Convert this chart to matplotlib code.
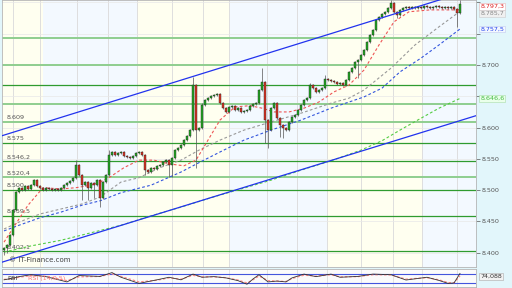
import numpy as np
import matplotlib
matplotlib.use('Agg')
import matplotlib.pyplot as plt
from matplotlib.patches import Rectangle
import matplotlib.transforms as mtransforms

# ---- data ----
first_open = 8.404
closes = [
    8.408, 8.412, 8.428, 8.468, 8.497, 8.504, 8.500, 8.507, 8.502, 8.508,
    8.516, 8.507, 8.504, 8.500, 8.504, 8.502, 8.500, 8.502, 8.500, 8.504,
    8.508, 8.512, 8.515, 8.520, 8.540, 8.524, 8.508, 8.513, 8.504, 8.512,
    8.508, 8.516, 8.488, 8.513, 8.524, 8.556, 8.561, 8.556, 8.559, 8.561,
    8.555, 8.553, 8.551, 8.555, 8.559, 8.561, 8.556, 8.532, 8.529, 8.536,
    8.534, 8.539, 8.540, 8.545, 8.548, 8.540, 8.551, 8.564, 8.567, 8.572,
    8.580, 8.587, 8.596, 8.668, 8.596, 8.599, 8.636, 8.644, 8.647, 8.650,
    8.652, 8.654, 8.639, 8.631, 8.625, 8.633, 8.635, 8.628, 8.631, 8.625,
    8.627, 8.628, 8.635, 8.638, 8.639, 8.660, 8.673, 8.612, 8.596, 8.631,
    8.639, 8.615, 8.604, 8.599, 8.596, 8.609, 8.617, 8.620, 8.628, 8.636,
    8.644, 8.647, 8.668, 8.663, 8.657, 8.660, 8.663, 8.678, 8.676, 8.674,
    8.673, 8.670, 8.671, 8.668, 8.676, 8.689, 8.695, 8.705, 8.708, 8.716,
    8.724, 8.737, 8.748, 8.756, 8.772, 8.777, 8.781, 8.785, 8.791, 8.799,
    8.785, 8.780, 8.788, 8.791, 8.793, 8.791, 8.793, 8.791, 8.793, 8.791,
    8.794, 8.793, 8.791, 8.793, 8.794, 8.793, 8.791, 8.793, 8.791, 8.793,
    8.789, 8.783, 8.797,
]
spike_high = {24: 8.548, 35: 8.564, 63: 8.681, 66: 8.640, 86: 8.695,
              102: 8.672, 107: 8.684, 129: 8.804, 152: 8.804}
spike_low = {0: 8.397, 1: 8.400, 26: 8.485, 28: 8.484, 30: 8.487, 32: 8.473,
             47: 8.525, 55: 8.521, 56: 8.521, 64: 8.536, 87: 8.575, 88: 8.567,
             92: 8.585, 93: 8.583, 118: 8.679, 131: 8.775, 151: 8.761}

red_idx = [0, 2, 8, 13, 19, 24, 29, 32, 35, 40, 45, 50, 55, 60, 64, 67, 72, 77,
           82, 86, 90, 95, 100, 105, 110, 115, 120, 125, 130, 135, 142, 152]
red_ma = [8.417, 8.432, 8.476, 8.504, 8.502, 8.504, 8.508, 8.513, 8.520, 8.536,
          8.548, 8.548, 8.542, 8.539, 8.548, 8.572, 8.612, 8.633, 8.635, 8.631,
          8.625, 8.625, 8.631, 8.641, 8.657, 8.668, 8.692, 8.732, 8.769, 8.785,
          8.788, 8.788]

grey_idx = [0, 5, 12, 19, 26, 32, 39, 45, 52, 59, 65, 72, 80, 89, 99, 109, 115,
            120, 129, 137, 145, 152]
grey_ma = [8.438, 8.449, 8.462, 8.470, 8.478, 8.489, 8.513, 8.520, 8.536, 8.548,
           8.564, 8.580, 8.596, 8.609, 8.623, 8.639, 8.647, 8.660, 8.695, 8.732,
           8.761, 8.7857]

blue_idx = [0, 5, 12, 19, 26, 32, 39, 49, 59, 65, 72, 80, 89, 99, 109, 120, 126,
            132, 139, 145, 152]
blue_ma = [8.435, 8.444, 8.456, 8.465, 8.476, 8.483, 8.496, 8.508, 8.529, 8.544,
           8.561, 8.580, 8.596, 8.612, 8.631, 8.649, 8.663, 8.689, 8.711, 8.732,
           8.7575]

green_idx = [0, 9, 19, 29, 39, 49, 59, 69, 79, 89, 99, 109, 119, 126, 132, 139,
             145, 152]
green_ma = [8.401, 8.411, 8.420, 8.432, 8.444, 8.459, 8.473, 8.488, 8.502, 8.516,
            8.532, 8.547, 8.564, 8.579, 8.596, 8.615, 8.631, 8.6466]

# trend channel end points (candle index, price)
trend_x = [-0.67, 157.33]
trend_upper = [8.587, 8.822]
trend_lower = [8.385, 8.619]

levels = [8.743, 8.700, 8.668, 8.637, 8.609, 8.575, 8.5462, 8.5204, 8.500,
          8.4595, 8.4021]
level_labels = ['', '', '', '', '8.609', '8.575', '8.546,2', '8.520,4', '8.500',
                '8.459,5', '8.402,1']

price_ticks = [8.40, 8.45, 8.50, 8.55, 8.60, 8.65, 8.70, 8.75, 8.80]
price_tick_labels = ['8.400', '8.450', '8.500', '8.550', '8.600', '', '8.700',
                     '', '']

value_labels = ['8.797,3', '8.785,7', '8.757,5', '8.646,6']
rsi_last = '74,088'

rsi_idx = [0, 2, 5, 9, 14, 21, 25, 32, 36, 39, 45, 51, 55, 59, 63, 66, 70, 74,
           78, 81, 83, 85, 88, 91, 94, 96, 100, 104, 109, 112, 118, 123, 129,
           134, 141, 145, 148, 150, 152]
rsi = [44, 49, 59, 68, 59, 34, 64, 60, 78, 56, 27, 44, 56, 44, 71, 56, 59, 53,
       40, 23, 48, 68, 34, 38, 34, 53, 71, 59, 71, 56, 60, 71, 68, 43, 56, 41,
       27, 29, 74]
rsi_sig = [46, 48, 56, 64, 61, 40, 58, 60, 72, 60, 34, 42, 53, 47, 65, 58, 58,
           54, 43, 29, 44, 62, 40, 38, 36, 50, 66, 61, 68, 58, 59, 68, 67, 47,
           54, 44, 31, 30, 62]

# ---- style ----
level_dark = [False, False, True, False, False, True, True, False, True, True, True]
vgrid = [3, 12, 24.3, 34.7, 44.3, 56, 66.3, 75, 87.7, 97.7, 107.7, 119, 129.7,
         139.3, 151]
band_edges = [-0.67, 13, 44.3, 75, 107.7, 139.3, 157.33]
box_y = [8.7935, 8.7822, 8.7575, 8.6466]   # where the right boxes sit
box_style = [('#dd2222', '#ffffff', '#e8b0b0'),
             ('#888888', '#f0f0f0', '#cccccc'),
             ('#2244ee', '#f4f8ff', '#c0c8ee'),
             ('#44bb44', '#eaffea', '#a8dda8')]
fs = 4.6

fig = plt.figure(figsize=(5.12, 2.88), dpi=100)
fig.patch.set_facecolor('#e2f6fb')

ax = fig.add_axes([2 / 512, 21 / 288, 474 / 512, 267 / 288])
ax.set_xlim(-0.67, 157.33)
ax.set_ylim(8.3773, 8.8038)

for k in range(len(band_edges) - 1):
    col = '#fffff0' if k % 2 == 0 else '#f3f9ff'
    ax.axvspan(band_edges[k], band_edges[k + 1], color=col, lw=0, zorder=0)
for g in vgrid:
    ax.axvline(g, color='#dedede', lw=0.7, zorder=1)
for t in price_ticks:
    ax.axhline(t, color='#e8e8e8', lw=0.5, zorder=1)

for lv, lab, dark in zip(levels, level_labels, level_dark):
    if dark:
        ax.axhline(lv, color='#2f9b2f', lw=0.9, zorder=2)
    else:
        ax.axhline(lv, color='#8fce8f', lw=1.4, zorder=2)
    if lab:
        ax.text(1.0, lv + 0.003, lab, fontsize=fs, color='#555555',
                va='bottom', ha='left', zorder=2)

# moving averages
ax.plot(green_idx, green_ma, color='#55cc44', lw=0.8, ls=(0, (2.5, 2)), zorder=3)
ax.plot(blue_idx, blue_ma, color='#3355dd', lw=0.8, ls=(0, (2.5, 2)), zorder=3)
ax.plot(grey_idx, grey_ma, color='#999999', lw=0.8, ls=(0, (2.5, 2)), zorder=3)
ax.plot(red_idx, red_ma, color='#ee5555', lw=0.8, ls=(0, (2.5, 2)), zorder=3)

# candles
for i, c in enumerate(closes):
    o = closes[i - 1] if i > 0 else first_open
    top, bot = max(o, c), min(o, c)
    hi = spike_high.get(i, top + 0.0015)
    lo = spike_low.get(i, bot - 0.0015)
    ax.vlines(i, lo, hi, color='#555555', lw=0.5, zorder=4)
    fc = '#22aa22' if c >= o else '#dd3322'
    ax.add_patch(Rectangle((i - 0.38, bot), 0.76, max(top - bot, 0.0009),
                           facecolor=fc, edgecolor='#222222', lw=0.3, zorder=4))

# trend channel
ax.plot(trend_x, trend_upper, color='#2233ee', lw=0.9, zorder=5)
ax.plot(trend_x, trend_lower, color='#2233ee', lw=0.9, zorder=5)

ax.text(1.5, 8.384, '\u00a9 IT-Finance.com', fontsize=5, color='#444444',
        va='bottom', ha='left', zorder=6)

ax.set_xticks([])
ax.yaxis.tick_right()
ax.set_yticks(price_ticks)
ax.set_yticklabels(price_tick_labels)
ax.tick_params(axis='y', direction='out', length=3, width=0.5, pad=1,
               labelsize=fs, colors='#555555')
for s in ax.spines.values():
    s.set_color('#b5b5b5')
    s.set_linewidth(0.6)

# value boxes at right
tr = mtransforms.blended_transform_factory(ax.transAxes, ax.transData)
for p, lab, (tc, bc, ec) in zip(box_y, value_labels, box_style):
    ax.text(1.009, p, lab, transform=tr, fontsize=fs, color=tc, va='center',
            ha='left', zorder=7, clip_on=False,
            bbox=dict(boxstyle='square,pad=0.15', facecolor=bc, edgecolor=ec,
                      lw=0.4))

# RSI panel
ax2 = fig.add_axes([2 / 512, 1 / 288, 474 / 512, 18 / 288])
ax2.set_xlim(-0.67, 157.33)
ax2.set_ylim(10, 95)
ax2.set_facecolor('#fbfbfb')
for g in vgrid:
    ax2.axvline(g, color='#e2e2e2', lw=0.7, zorder=1)
ax2.axhline(70, color='#4455dd', lw=0.8, zorder=2)
ax2.axhline(30, color='#4455dd', lw=0.8, zorder=2)
ax2.plot(rsi_idx, rsi_sig, color='#ff8a8a', lw=0.9, ls=(0, (2, 1.5)), zorder=3)
ax2.plot(rsi_idx, rsi, color='#333333', lw=0.6, zorder=4)
ax2.text(1.0, 50, 'RSI', fontsize=fs, color='#333333', va='center', zorder=5)
ax2.text(8.0, 50, 'RSI (14,0,5)', fontsize=fs, color='#ff7777', va='center',
         zorder=5)
ax2.set_xticks([])
ax2.set_yticks([])
for s in ax2.spines.values():
    s.set_color('#b5b5b5')
    s.set_linewidth(0.6)
ax2.text(1.009, 60, rsi_last, transform=ax2.get_yaxis_transform(), fontsize=fs,
         color='#333333', va='center', ha='left', clip_on=False,
         bbox=dict(boxstyle='square,pad=0.15', facecolor='#f2f2f2',
                   edgecolor='#aaaaaa', lw=0.4))

fig.savefig('out.png', dpi=100, facecolor=fig.get_facecolor())
